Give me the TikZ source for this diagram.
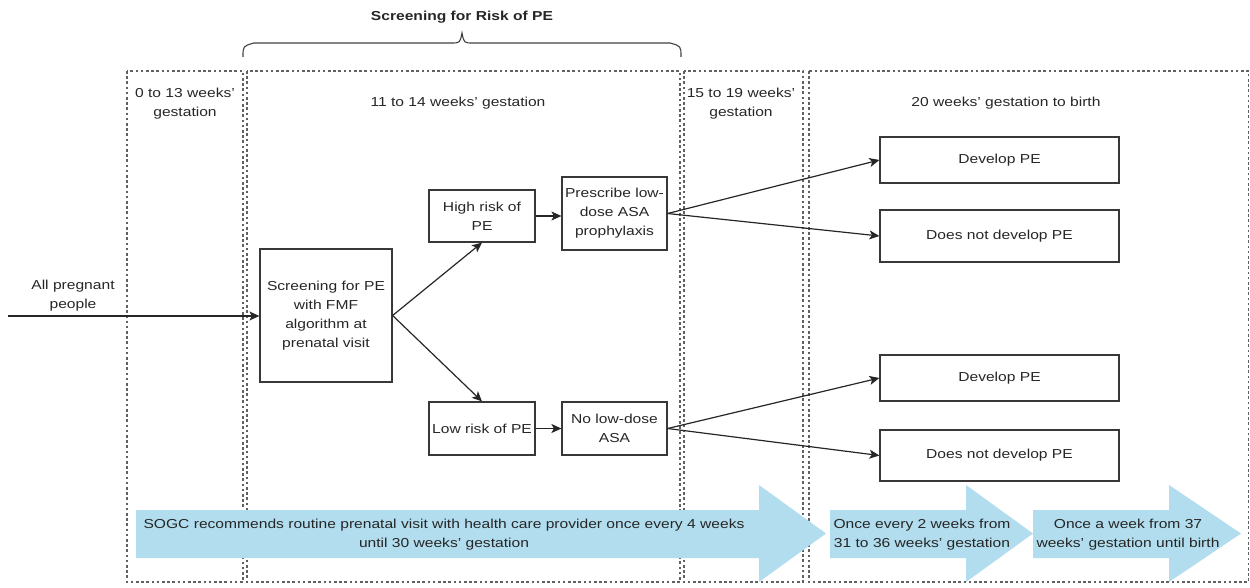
\documentclass[tikz,border=0pt]{standalone}
\usepackage{fontspec}
\setmainfont{Liberation Sans}[FakeStretch=1.2]
\usetikzlibrary{arrows.meta}
\definecolor{bandblue}{HTML}{B1DDEE}
\definecolor{txt}{HTML}{262626}
\begin{document}
\begin{tikzpicture}[x=1pt,y=-1pt,
  every node/.style={font=\fontsize{13}{19}\selectfont, text=txt, align=center, inner sep=1pt},
  frame/.style={draw=black!62, line width=1.1pt, dash pattern=on 2.6pt off 2.6pt},
  box/.style={draw=black!78, line width=1.2pt, fill=white, inner sep=2pt},
  conn/.style={draw=black!85, line width=1.2pt, -{Stealth[length=10pt,width=9pt,inset=2.5pt]}},
  band/.style={fill=bandblue, draw=none}]
\useasboundingbox (0,0) rectangle (1250,588);

% dotted frames
\draw[frame] (127,71) rectangle (243,582);
\draw[frame] (247,71) rectangle (680,582);
\draw[frame] (684,71) rectangle (803,582);
\draw[frame] (809,71) rectangle (1248.5,582);

% light blue timeline arrows
\fill[band] (136,510) -- (759,510) -- (759,485) -- (826,533.5) -- (759,582) -- (759,558) -- (136,558) -- cycle;
\fill[band] (830,510) -- (966,510) -- (966,485) -- (1033,533.5) -- (966,582) -- (966,558) -- (830,558) -- cycle;
\fill[band] (1033,510) -- (1169,510) -- (1169,485) -- (1241,533.5) -- (1169,582) -- (1169,558) -- (1033,558) -- cycle;

% brace and title
\draw[black!75, line width=1.1pt] (243,57) .. controls (243,46) .. (254,43) -- (451,43)
  .. controls (460,43) .. (462,33) .. controls (464,43) .. (473,43) -- (670,43)
  .. controls (681,46) .. (681,57);
\node[font=\fontsize{13}{19}\selectfont\bfseries] (title) at (462,17) {Screening for Risk of PE};

% period headings
\node (h1) at (185,103.5) {0 to 13 weeks'\\gestation};
\node (h2) at (458,103) {11 to 14 weeks' gestation};
\node (h3) at (741,103.5) {15 to 19 weeks'\\gestation};
\node (h4) at (1006,103) {20 weeks' gestation to birth};

% flow boxes
\node (all) at (73,296) {All pregnant\\people};
\coordinate (start) at (8,316);
\node[box, minimum width=132pt, minimum height=133pt] (scr) at (326,315.5) {Screening for PE\\with FMF\\algorithm at\\prenatal visit};
\node[box, minimum width=106pt, minimum height=52pt] (hr) at (482,216) {High risk of\\PE};
\node[box, minimum width=105pt, minimum height=73pt] (pr) at (614.5,213.5) {Prescribe low-\\dose ASA\\prophylaxis};
\node[box, minimum width=106pt, minimum height=53pt] (lr) at (482,428.5) {Low risk of PE};
\node[box, minimum width=105pt, minimum height=53pt] (nl) at (614.5,428.5) {No low-dose\\ASA};
\node[box, minimum width=239pt, minimum height=46pt] (d1) at (999.5,160) {Develop PE};
\node[box, minimum width=239pt, minimum height=52pt] (n1) at (999.5,236) {Does not develop PE};
\node[box, minimum width=239pt, minimum height=46pt] (d2) at (999.5,378) {Develop PE};
\node[box, minimum width=239pt, minimum height=51pt] (n2) at (999.5,455.5) {Does not develop PE};

% connectors
\draw[conn] (start) -- (start -| scr.west);
\draw[conn] (scr.east) -- (hr.south);
\draw[conn] (scr.east) -- (lr.north);
\draw[conn] (hr.east) -- (hr.east -| pr.west);
\draw[conn] (lr.east) -- (lr.east -| nl.west);
\draw[conn] (pr.east) -- (d1.west);
\draw[conn] (pr.east) -- (n1.west);
\draw[conn] (nl.east) -- (d2.west);
\draw[conn] (nl.east) -- (n2.west);

% timeline texts
\node (t1) at (444,535) {SOGC recommends routine prenatal visit with health care provider once every 4 weeks\\until 30 weeks' gestation};
\node (t2) at (922,535) {Once every 2 weeks from\\31 to 36 weeks' gestation};
\node (t3) at (1128,535) {Once a week from 37\\weeks' gestation until birth};
\end{tikzpicture}
\end{document}
